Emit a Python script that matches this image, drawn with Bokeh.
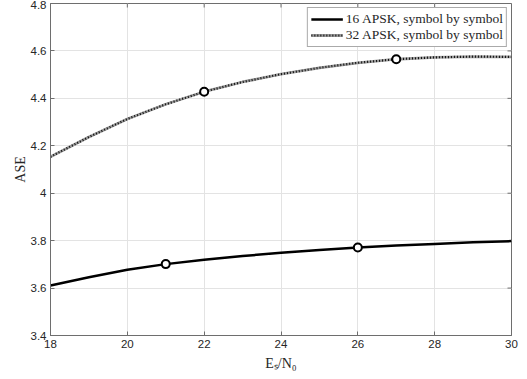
from bokeh.plotting import figure
from bokeh.models import Range1d, FixedTicker, Legend, LegendItem
from bokeh.embed import file_html
from bokeh.resources import INLINE

# ---- data ----
esn0 = [18, 19, 20, 21, 22, 23, 24, 25, 26, 27, 28, 29, 30]
ase_16apsk = [3.611, 3.646, 3.677, 3.701, 3.719, 3.735, 3.749, 3.761, 3.771, 3.779, 3.786, 3.793, 3.798]
ase_32apsk = [4.154, 4.237, 4.313, 4.375, 4.428, 4.469, 4.502, 4.529, 4.550, 4.565, 4.573, 4.576, 4.575]
marker_x_16 = [21, 26]
marker_x_32 = [22, 27]
series_labels = ["16 APSK, symbol by symbol", "32 APSK, symbol by symbol"]
x_ticks = [18, 20, 22, 24, 26, 28, 30]
x_tick_labels = ["18", "20", "22", "24", "26", "28", "30"]
y_ticks = [3.4, 3.6, 3.8, 4.0, 4.2, 4.4, 4.6, 4.8]
y_tick_labels = ["3.4", "3.6", "3.8", "4", "4.2", "4.4", "4.6", "4.8"]
x_label = "E\u209b/N\u2080"
y_label = "ASE"

marker_y_16 = [ase_16apsk[esn0.index(v)] for v in marker_x_16]
marker_y_32 = [ase_32apsk[esn0.index(v)] for v in marker_x_32]

AX = "#6e6e6e"
TXT = "#262626"
SERIF = "Liberation Serif"
SANS = "Liberation Sans"

W, H = 527, 379
BL, BR, BT, BB = 50, 16, 3, 44
FRAME_W, FRAME_H = W - BL - BR, H - BT - BB
TICK_PX = 4

p = figure(width=W, height=H, output_backend="svg", toolbar_location=None,
           x_range=Range1d(x_ticks[0], x_ticks[-1]), y_range=Range1d(y_ticks[0], y_ticks[-1]),
           min_border_left=BL, min_border_right=BR, min_border_top=BT, min_border_bottom=BB)
p.background_fill_color = "white"
p.border_fill_color = "white"
p.outline_line_color = AX
p.outline_line_width = 1

# axes
p.xaxis.ticker = FixedTicker(ticks=x_ticks)
p.xaxis.major_label_overrides = dict(zip(x_ticks, x_tick_labels))
p.yaxis.ticker = FixedTicker(ticks=y_ticks)
p.yaxis.major_label_overrides = dict(zip(y_ticks, y_tick_labels))
for ax in (p.xaxis[0], p.yaxis[0]):
    ax.axis_line_color = AX
    ax.major_tick_line_color = AX
    ax.major_tick_in = TICK_PX
    ax.major_tick_out = 0
    ax.minor_tick_line_color = None
    ax.major_label_text_font = SANS
    ax.major_label_text_font_size = "11.5px"
    ax.major_label_text_color = TXT
    ax.major_label_standoff = 4
    ax.axis_label_text_font = SERIF
    ax.axis_label_text_font_size = "14px"
    ax.axis_label_text_font_style = "normal"
    ax.axis_label_text_color = TXT
p.yaxis.axis_label = y_label
p.yaxis.axis_label_standoff = 0
p.xaxis.axis_label = x_label
p.xaxis.axis_label_standoff = 5

# box-style inward ticks on top and right edges
dy = TICK_PX * (y_ticks[-1] - y_ticks[0]) / FRAME_H
dx = TICK_PX * (x_ticks[-1] - x_ticks[0]) / FRAME_W
p.segment(x0=x_ticks, y0=[y_ticks[-1]] * len(x_ticks), x1=x_ticks,
          y1=[y_ticks[-1] - dy] * len(x_ticks), line_color=AX, line_width=1)
p.segment(x0=[x_ticks[-1]] * len(y_ticks), y0=y_ticks, x1=[x_ticks[-1] - dx] * len(y_ticks),
          y1=y_ticks, line_color=AX, line_width=1)

# grid
p.xgrid.ticker = FixedTicker(ticks=x_ticks)
p.ygrid.ticker = FixedTicker(ticks=y_ticks)
p.grid.grid_line_color = "#e3e3e3"
p.grid.grid_line_width = 1

# series
r16 = p.line(esn0, ase_16apsk, line_color="black", line_width=2.5, line_join="round")
r32_base = p.line(esn0, ase_32apsk, line_color="#9a9a9a", line_width=2.8, line_join="round")
r32_dots = p.line(esn0, ase_32apsk, line_color="#111111", line_width=2.2, line_dash="1 2")
p.scatter(marker_x_16, marker_y_16, marker="circle", size=8, line_color="black",
          line_width=2, fill_color="white")
p.scatter(marker_x_32, marker_y_32, marker="circle", size=8, line_color="black",
          line_width=2, fill_color="white")

legend = Legend(items=[LegendItem(label=series_labels[0], renderers=[r16]),
                       LegendItem(label=series_labels[1], renderers=[r32_base, r32_dots])],
                location="top_right", margin=4, padding=3, spacing=0,
                label_text_font=SERIF, label_text_font_size="13.5px",
                label_text_color=TXT, label_standoff=3, glyph_width=32,
                glyph_height=14, label_height=14,
                border_line_color="#555555", border_line_width=1,
                background_fill_color="white", background_fill_alpha=1)
p.add_layout(legend)

open("out.html", "w").write(file_html(p, INLINE))
